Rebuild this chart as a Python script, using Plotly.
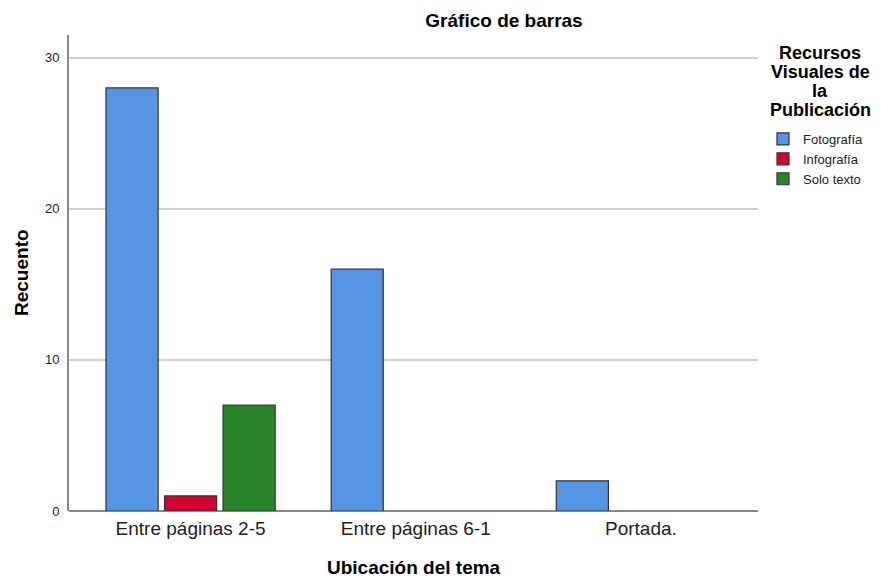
import plotly.graph_objects as go

categories = ["Entre páginas 2-5", "Entre páginas 6-1", "Portada."]
fotografia = [28, 16, 2]
infografia = [1, 0, 0]
solo_texto = [7, 0, 0]
series_names = ["Fotografía", "Infografía", "Solo texto"]
y_ticks = [0, 10, 20, 30]
legend_title_lines = ["Recursos", "Visuales de", "la", "Publicación"]

colors = ["#5595e3", "#d40132", "#2a852a"]
font = "Liberation Sans, Arial, sans-serif"

# the page body adds an 8px offset, so the figure is drawn 8px smaller
OFF = 8
W, H = 881 - OFF, 580 - OFF
ML, MR, MT, MB = 69 - OFF, 123, 35 - OFF, 69

def px_x(sx):
    return (sx - OFF - ML) / (W - ML - MR)

def px_y(sy):
    return (H - MB - (sy - OFF)) / (H - MT - MB)

fig = go.Figure()
for name, vals, col in zip(series_names, [fotografia, infografia, solo_texto], colors):
    fig.add_trace(go.Bar(
        x=list(range(len(categories))),
        y=[v if v else None for v in vals],
        name=name,
        marker=dict(color=col, line=dict(color="#333333", width=1.2)),
    ))

annotations = []
line_y = [53, 72, 91, 110]
for txt, sy in zip(legend_title_lines, line_y):
    annotations.append(dict(
        text=f"<b>{txt}</b>", xref="paper", yref="paper",
        x=px_x(820), y=px_y(sy), xanchor="center", yanchor="middle",
        showarrow=False, font=dict(size=18, family=font, color="black"),
    ))
annotations.append(dict(
    text="<b>Recuento</b>", xref="paper", yref="paper", textangle=-90,
    x=px_x(21), y=px_y(273), xanchor="center", yanchor="middle",
    showarrow=False, font=dict(size=19, family=font, color="black"),
))
annotations.append(dict(
    text="<b>Ubicación del tema</b>", xref="paper", yref="paper",
    x=px_x(414), y=px_y(567), xanchor="center", yanchor="middle",
    showarrow=False, font=dict(size=19, family=font, color="black"),
))

fig.update_layout(
    width=W, height=H,
    paper_bgcolor="white", plot_bgcolor="white",
    margin=dict(l=ML, r=MR, t=MT, b=MB),
    barmode="group", bargap=0.22, bargroupgap=0.11,
    title=dict(text="<b>Gráfico de barras</b>", x=(504 - OFF) / W, xanchor="center",
               y=1 - (20 - OFF) / H, yanchor="middle",
               font=dict(family=font, size=19, color="black")),
    font=dict(family=font, color="black"),
    showlegend=True,
    xaxis=dict(
        range=[-0.54, 2.52], tickmode="array", tickvals=list(range(len(categories))),
        ticktext=categories, showgrid=False, zeroline=False, showline=False,
        ticks="", tickfont=dict(size=19, color="#222222"), automargin=False,
        ticklabelstandoff=4,
    ),
    yaxis=dict(
        range=[0, 31.5], tickvals=y_ticks, showgrid=True, gridcolor="#d0d0d0", gridwidth=1.5,
        zeroline=True, zerolinecolor="#888888", zerolinewidth=2,
        showline=True, linecolor="#888888", linewidth=2, ticks="",
        tickfont=dict(size=13, color="#222222"), automargin=False, ticklabelstandoff=5,
    ),
    legend=dict(x=px_x(763), xanchor="left", y=px_y(124), yanchor="top",
                font=dict(size=13, color="#222222"), tracegroupgap=0, itemwidth=30,
                bgcolor="rgba(0,0,0,0)"),
    annotations=annotations,
)

fig.write_html("out.html")
